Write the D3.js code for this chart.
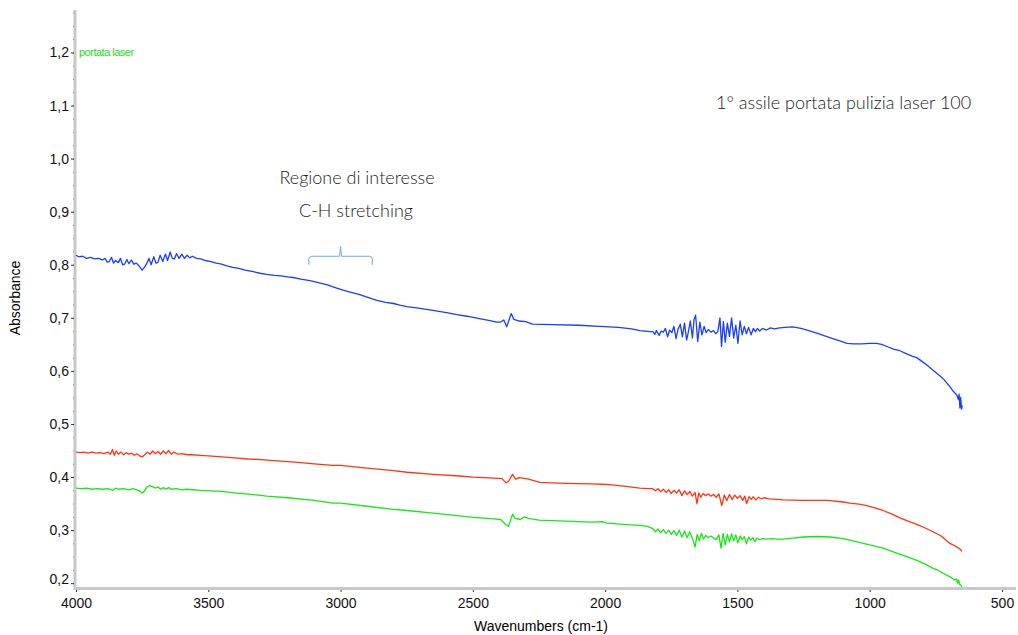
<!DOCTYPE html>
<html>
<head>
<meta charset="utf-8">
<script src="https://d3js.org/d3.v7.min.js"></script>
<style>
  body { margin: 0; background: #fff; }
  svg { display: block; }
  .tick text { font-family: "Liberation Sans", Arial, sans-serif; font-size: 14px; fill: #111; }
  .note { font-family: Lato, "Open Sans", sans-serif; font-weight: 300; font-size: 18px; fill: #222; }
</style>
</head>
<body>
<svg width="1018" height="635"></svg>
<script>
// spectra: [wavenumber, absorbance]
const blueSpectrum = [
  [4000,0.818],[3990,0.815],[3975,0.816],[3960,0.812],[3945,0.814],[3930,0.811],[3915,0.812],[3900,0.809],
  [3890,0.812],[3882,0.805],[3874,0.806],[3866,0.814],[3858,0.803],[3850,0.808],[3840,0.804],[3832,0.812],
  [3824,0.800],[3816,0.801],[3808,0.810],[3800,0.802],[3790,0.809],[3782,0.801],[3772,0.803],[3762,0.798],
  [3750,0.790],[3740,0.796],[3732,0.803],[3724,0.812],[3716,0.800],[3706,0.815],[3698,0.803],[3690,0.805],
  [3682,0.818],[3672,0.806],[3662,0.820],[3654,0.808],[3644,0.824],[3636,0.812],[3628,0.811],[3620,0.821],
  [3610,0.812],[3600,0.820],[3590,0.812],[3580,0.818],[3570,0.813],[3560,0.816],[3545,0.812],[3530,0.811],
  [3510,0.808],[3490,0.806],[3470,0.803],[3450,0.801],[3430,0.798],[3407,0.795],[3385,0.793],[3360,0.790],
  [3330,0.787],[3305,0.784],[3280,0.782],[3250,0.780],[3225,0.779],[3200,0.777],[3180,0.776],[3150,0.773],
  [3116,0.770],[3080,0.766],[3050,0.762],[3020,0.757],[2991,0.752],[2960,0.748],[2930,0.744],[2900,0.739],
  [2862,0.733],[2830,0.729],[2800,0.727],[2776,0.724],[2749,0.721],[2700,0.718],[2651,0.714],[2600,0.710],
  [2560,0.706],[2522,0.703],[2480,0.699],[2440,0.695],[2410,0.692],[2395,0.692],[2383,0.696],[2372,0.683],
  [2355,0.708],[2345,0.697],[2325,0.694],[2300,0.693],[2275,0.688],[2200,0.687],[2100,0.686],[2020,0.684],
  [1950,0.682],[1900,0.679],[1868,0.676],[1830,0.674],[1820,0.674],[1812,0.669],[1806,0.676],[1796,0.667],
  [1788,0.675],[1780,0.673],[1772,0.680],[1764,0.664],[1756,0.677],[1748,0.672],[1740,0.684],[1732,0.661],
  [1724,0.679],[1716,0.688],[1708,0.664],[1700,0.690],[1692,0.658],[1686,0.672],[1678,0.694],[1670,0.662],
  [1664,0.697],[1658,0.705],[1650,0.655],[1642,0.692],[1634,0.668],[1626,0.684],[1618,0.672],[1610,0.678],
  [1600,0.673],[1590,0.676],[1582,0.670],[1574,0.674],[1566,0.700],[1560,0.646],[1553,0.693],[1546,0.654],
  [1538,0.690],[1530,0.665],[1522,0.700],[1514,0.662],[1506,0.686],[1498,0.652],[1490,0.694],[1482,0.668],
  [1474,0.684],[1466,0.670],[1458,0.682],[1448,0.668],[1440,0.680],[1432,0.674],[1424,0.680],[1416,0.675],
  [1405,0.680],[1390,0.677],[1375,0.681],[1360,0.679],[1340,0.681],[1320,0.682],[1290,0.683],[1260,0.680],
  [1230,0.676],[1200,0.671],[1170,0.666],[1140,0.661],[1110,0.656],[1086,0.652],[1060,0.651],[1030,0.651],
  [1000,0.652],[975,0.652],[955,0.650],[930,0.645],[910,0.641],[886,0.638],[860,0.632],[840,0.628],
  [822,0.625],[800,0.617],[784,0.611],[765,0.603],[750,0.597],[735,0.591],[720,0.584],[708,0.577],
  [695,0.569],[685,0.562],[675,0.557],[670,0.554],[665,0.546],[662,0.556],[659,0.530],[656,0.550],
  [653,0.528],[650,0.535]
];

const redSpectrum = [
  [4000,0.447],[3985,0.446],[3970,0.447],[3955,0.445],[3940,0.447],[3925,0.445],[3910,0.446],[3895,0.444],
  [3880,0.447],[3870,0.443],[3862,0.452],[3855,0.441],[3848,0.449],[3840,0.443],[3830,0.447],[3820,0.442],
  [3810,0.446],[3800,0.443],[3790,0.445],[3780,0.441],[3770,0.444],[3760,0.440],[3750,0.438],[3740,0.442],
  [3730,0.447],[3720,0.443],[3710,0.449],[3700,0.444],[3690,0.448],[3680,0.443],[3670,0.449],[3660,0.444],
  [3650,0.450],[3640,0.443],[3630,0.447],[3615,0.443],[3600,0.444],[3580,0.442],[3560,0.442],[3531,0.441],
  [3500,0.440],[3450,0.438],[3400,0.436],[3350,0.434],[3300,0.433],[3278,0.432],[3200,0.429],[3150,0.427],
  [3100,0.425],[3029,0.422],[3000,0.422],[2900,0.417],[2800,0.412],[2749,0.409],[2650,0.405],[2550,0.402],
  [2499,0.400],[2420,0.398],[2390,0.397],[2375,0.389],[2365,0.392],[2350,0.405],[2338,0.396],[2325,0.399],
  [2310,0.398],[2290,0.396],[2260,0.392],[2246,0.390],[2150,0.388],[2050,0.387],[1993,0.386],[1930,0.383],
  [1869,0.379],[1840,0.378],[1820,0.378],[1810,0.374],[1800,0.378],[1790,0.372],[1780,0.377],[1770,0.371],
  [1760,0.376],[1750,0.369],[1740,0.375],[1730,0.370],[1720,0.376],[1710,0.365],[1700,0.374],[1690,0.367],
  [1680,0.373],[1670,0.364],[1660,0.371],[1653,0.350],[1646,0.370],[1638,0.362],[1630,0.369],[1620,0.365],
  [1610,0.368],[1600,0.364],[1590,0.367],[1580,0.362],[1570,0.368],[1559,0.346],[1550,0.366],[1540,0.356],
  [1530,0.367],[1520,0.358],[1510,0.366],[1500,0.360],[1490,0.365],[1480,0.356],[1472,0.364],[1465,0.350],
  [1456,0.363],[1448,0.358],[1440,0.363],[1430,0.357],[1420,0.362],[1410,0.359],[1400,0.361],[1380,0.359],
  [1350,0.358],[1328,0.357],[1250,0.356],[1162,0.356],[1100,0.353],[1075,0.351],[1040,0.349],[1011,0.346],
  [980,0.342],[950,0.337],[920,0.331],[890,0.324],[860,0.318],[822,0.311],[790,0.304],[761,0.297],
  [730,0.289],[697,0.275],[680,0.271],[670,0.268],[660,0.265],[651,0.260]
];

const greenSpectrum = [
  [4000,0.379],[3980,0.378],[3960,0.379],[3940,0.377],[3920,0.378],[3900,0.377],[3880,0.378],[3860,0.375],
  [3850,0.379],[3840,0.377],[3820,0.378],[3800,0.376],[3785,0.378],[3770,0.376],[3760,0.374],[3750,0.370],
  [3742,0.373],[3732,0.381],[3722,0.384],[3710,0.382],[3700,0.379],[3690,0.381],[3680,0.377],[3670,0.380],
  [3660,0.377],[3650,0.380],[3640,0.377],[3620,0.378],[3600,0.376],[3580,0.377],[3531,0.375],[3450,0.373],
  [3400,0.370],[3350,0.368],[3278,0.364],[3200,0.361],[3100,0.356],[3029,0.351],[3000,0.351],[2900,0.345],
  [2800,0.339],[2749,0.337],[2650,0.332],[2550,0.327],[2499,0.324],[2420,0.321],[2395,0.320],[2375,0.310],
  [2365,0.307],[2350,0.330],[2340,0.322],[2320,0.320],[2305,0.325],[2290,0.322],[2250,0.319],[2150,0.317],
  [2050,0.315],[2010,0.316],[1993,0.313],[1930,0.311],[1869,0.309],[1840,0.307],[1820,0.303],[1810,0.297],
  [1800,0.302],[1790,0.295],[1780,0.301],[1770,0.294],[1760,0.300],[1750,0.292],[1740,0.299],[1730,0.290],
  [1720,0.300],[1710,0.287],[1700,0.298],[1690,0.286],[1680,0.297],[1670,0.284],[1660,0.268],[1652,0.292],
  [1644,0.280],[1636,0.294],[1628,0.283],[1620,0.290],[1610,0.286],[1600,0.289],[1590,0.285],[1580,0.282],
  [1570,0.291],[1562,0.266],[1554,0.294],[1546,0.272],[1538,0.292],[1530,0.278],[1522,0.293],[1514,0.280],
  [1506,0.291],[1498,0.276],[1490,0.289],[1482,0.282],[1474,0.288],[1466,0.274],[1458,0.287],[1450,0.281],
  [1442,0.286],[1434,0.278],[1426,0.285],[1418,0.282],[1405,0.284],[1390,0.283],[1370,0.284],[1350,0.283],
  [1328,0.283],[1290,0.285],[1250,0.287],[1200,0.288],[1150,0.287],[1100,0.284],[1075,0.281],[1040,0.277],
  [1000,0.272],[950,0.266],[900,0.257],[860,0.250],[822,0.243],[790,0.236],[760,0.228],[740,0.224],
  [724,0.219],[705,0.214],[690,0.210],[680,0.206],[672,0.208],[668,0.200],[664,0.206],[660,0.198],
  [655,0.196],[651,0.193]
];

const xTicks = [4000, 3500, 3000, 2500, 2000, 1500, 1000, 500];
const yTicks = [0.2, 0.3, 0.4, 0.5, 0.6, 0.7, 0.8, 0.9, 1.0, 1.1, 1.2];
const xLabel = "Wavenumbers (cm-1)";
const yLabel = "Absorbance";
const sampleTitle = "1° assile portata pulizia laser 100";
const seriesName = "portata laser";
const regionLines = ["Regione di interesse", "C-H stretching"];
const regionRange = [3120, 3000, 2880]; // bracket left, tip, right

const svg = d3.select("svg");
const axisFont = "'Liberation Sans', Arial, sans-serif";

const x = d3.scaleLinear().domain([4000, 447]).range([76, 1016]);
const y = d3.scaleLinear().domain([0.19, 1.28]).range([588.5, 10]);

const fmt = d => d3.format(".1f")(d).replace(".", ",");

// minor ticks first, under the axis bars
svg.append("g")
  .attr("transform", "translate(75,0)")
  .call(d3.axisLeft(y).tickValues(d3.range(0.2, 1.276, 0.025)).tickSize(2).tickFormat(""))
  .call(g => g.select(".domain").remove())
  .call(g => g.selectAll("line").attr("stroke", "#555"));

svg.append("g")
  .attr("transform", "translate(0,588)")
  .call(d3.axisBottom(x).tickValues(d3.range(4000, 447, -100)).tickSize(2).tickFormat(""))
  .call(g => g.select(".domain").remove())
  .call(g => g.selectAll("line").attr("stroke", "#555"));

// axis bars
svg.append("line")
  .attr("x1", 75).attr("x2", 75).attr("y1", 10).attr("y2", 590)
  .attr("stroke", "#c8c8c8").attr("stroke-width", 3);
svg.append("line")
  .attr("x1", 74).attr("x2", 1016).attr("y1", 588.5).attr("y2", 588.5)
  .attr("stroke", "#c8c8c8").attr("stroke-width", 3);

// major ticks + labels
const yAxis = svg.append("g")
  .attr("transform", "translate(74,0)")
  .call(d3.axisLeft(y).tickValues(yTicks).tickSize(3).tickPadding(2).tickFormat(fmt))
  .call(g => g.select(".domain").remove())
  .call(g => g.selectAll("line").attr("stroke", "#333"));
yAxis.selectAll(".tick text").filter(d => d === 0.2).attr("dy", "0.0em");

svg.append("g")
  .attr("transform", "translate(0,590)")
  .call(d3.axisBottom(x).tickValues(xTicks).tickSize(2).tickPadding(6).tickFormat(d3.format("d")))
  .call(g => g.select(".domain").remove())
  .call(g => g.selectAll("line").attr("stroke", "#333"));

svg.append("text")
  .attr("transform", "translate(20,298) rotate(-90)")
  .attr("text-anchor", "middle")
  .style("font-family", axisFont)
  .style("font-size", "14px")
  .text(yLabel);

svg.append("text")
  .attr("x", 541).attr("y", 631)
  .attr("text-anchor", "middle")
  .style("font-family", axisFont)
  .style("font-size", "14px")
  .text(xLabel);

// spectra
const line = d3.line().x(d => x(d[0])).y(d => y(d[1]));
[[greenSpectrum, "#19e619"], [redSpectrum, "#ff3317"], [blueSpectrum, "#1a3dff"]].forEach(([data, col]) => {
  svg.append("path")
    .datum(data)
    .attr("d", line)
    .attr("fill", "none")
    .attr("stroke", col)
    .attr("stroke-width", 1.3)
    .attr("stroke-linejoin", "round");
});

// legend label
svg.append("text")
  .attr("x", 79).attr("y", y(1.2) + 4)
  .style("font-family", axisFont)
  .style("font-size", "11px")
  .style("letter-spacing", "-0.5px")
  .attr("fill", "#22dd22")
  .text(seriesName);

// annotations
svg.append("text").attr("class", "note")
  .attr("x", 716).attr("y", 109)
  .text(sampleTitle);

svg.selectAll(".region")
  .data(regionLines)
  .enter().append("text")
  .attr("class", "note region")
  .attr("x", (d, i) => i === 0 ? 357 : 356)
  .attr("y", (d, i) => 184 + i * 33)
  .attr("text-anchor", "middle")
  .text(d => d);

// bracket over the C-H region
const bx0 = x(regionRange[0]), bxm = x(regionRange[1]), bx1 = x(regionRange[2]);
const by = y(0.816), bTip = y(0.834), bEnd = y(0.800);
svg.append("path")
  .attr("d", `M${bx0},${bEnd} L${bx0},${by + 3} Q${bx0},${by} ${bx0 + 3},${by} L${bxm - 1},${by} L${bxm},${bTip} L${bxm + 1},${by} L${bx1 - 3},${by} Q${bx1},${by} ${bx1},${by + 3} L${bx1},${bEnd}`)
  .attr("fill", "none")
  .attr("stroke", "#6fa8dc")
  .attr("stroke-width", 1);
</script>
</body>
</html>
